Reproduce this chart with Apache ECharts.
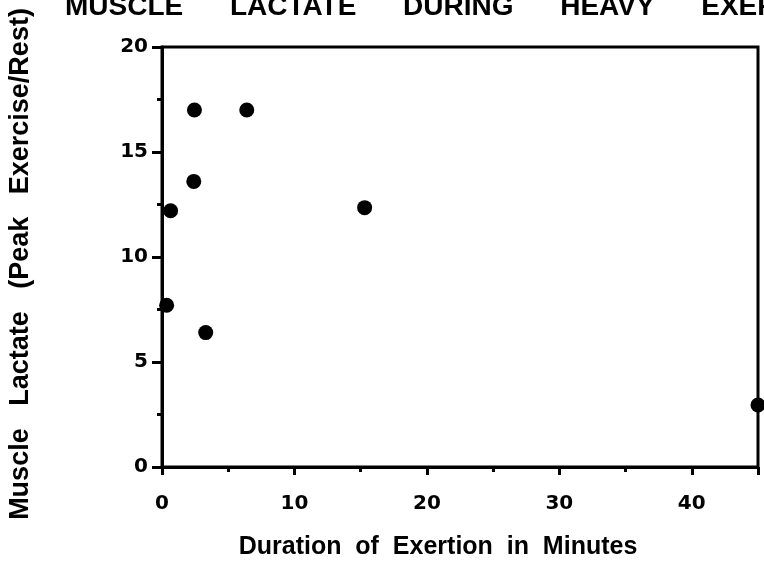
<!DOCTYPE html>
<html><head><meta charset="utf-8">
<script src="https://cdn.jsdelivr.net/npm/echarts@6/dist/echarts.min.js"></script>
<style>html,body{margin:0;padding:0;background:#fff}#c{width:764px;height:562px}</style>
</head><body><div id="c"></div>
<script>
const titleText = 'MUSCLE      LACTATE      DURING      HEAVY      EXERCISE';
const xAxisTitle = 'Duration  of  Exertion  in  Minutes';
const yAxisTitle = 'Muscle   Lactate   (Peak   Exercise/Rest)';
const durationMin = [0.35, 0.65, 2.45, 2.4, 3.3, 6.4, 15.3, 45];
const lactateRatio = [7.7, 12.2, 17.0, 13.6, 6.4, 17.0, 12.35, 2.95];

const font = 'Liberation Sans, Arial, Helvetica, sans-serif';
const tickFont = 'DejaVu Sans, Liberation Sans, sans-serif';
const chart = echarts.init(document.getElementById('c'));
chart.setOption({
  backgroundColor: '#fff',
  animation: false,
  grid: { left: 162, right: 6, top: 47, bottom: 95, show: true, borderColor: '#000', borderWidth: 3, containLabel: false, outerBoundsMode: 'none' },
  graphic: [
    { type: 'text', x: 65, y: 7, style: { text: titleText, font: 'bold 28px ' + font, fill: '#000', verticalAlign: 'middle' } },
    { type: 'text', x: 21, y: 264, rotation: Math.PI / 2, style: { text: yAxisTitle, font: 'bold 27px ' + font, fill: '#000', align: 'center', verticalAlign: 'middle' } }
  ],
  xAxis: {
    type: 'value', min: 0, max: 45, interval: 10,
    name: xAxisTitle, nameLocation: 'middle', nameGap: 68,
    nameTextStyle: { fontFamily: font, fontWeight: 'bold', fontSize: 25, color: '#000', padding: [0, 44, 0, 0] },
    axisLine: { onZero: false, lineStyle: { color: '#000', width: 3 } },
    axisTick: { show: true, length: 8, lineStyle: { color: '#000', width: 3 } },
    minorTick: { show: true, splitNumber: 2, length: 5, lineStyle: { color: '#000', width: 3 } },
    axisLabel: { showMaxLabel: false, margin: 27, fontFamily: tickFont, fontWeight: 'bold', fontSize: 20, color: '#000' },
    splitLine: { show: false }
  },
  yAxis: {
    type: 'value', min: 0, max: 20, interval: 5,
    axisLine: { onZero: false, lineStyle: { color: '#000', width: 3 } },
    axisTick: { show: true, length: 10, lineStyle: { color: '#000', width: 3 } },
    minorTick: { show: true, splitNumber: 2, length: 5, lineStyle: { color: '#000', width: 3 } },
    axisLabel: { margin: 14, fontFamily: tickFont, fontWeight: 'bold', fontSize: 20, color: '#000' },
    splitLine: { show: false }
  },
  series: [{
    type: 'scatter', symbol: 'circle', symbolSize: 15,
    itemStyle: { color: '#000', opacity: 1 },
    data: durationMin.map((x, i) => [x, lactateRatio[i]]),
    clip: false
  }]
});
</script></body></html>
